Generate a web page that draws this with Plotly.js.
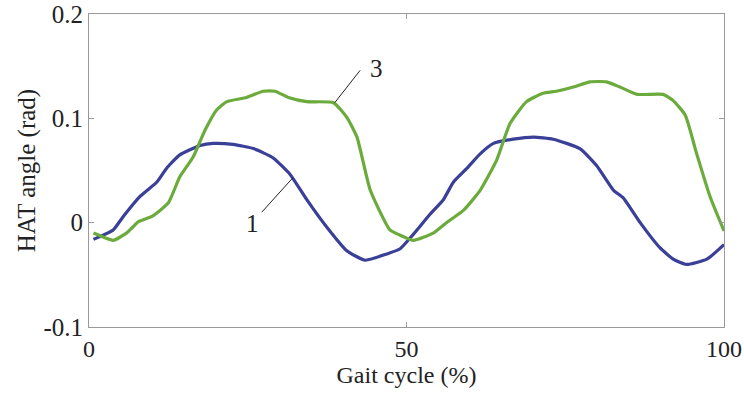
<!DOCTYPE html>
<html><head><meta charset="utf-8">
<script src="https://cdn.plot.ly/plotly-3.0.1.min.js"></script>
<style>html,body{margin:0;padding:0;background:#fff}#c{width:744px;height:394px}</style>
</head><body><div id="c"></div>
<script>
const x1 = [0.7,3.8,5.4,8.0,10.7,12.2,14.3,17.5,19.6,22.7,25.9,29.0,31.7,34.3,37.4,40.6,43.5,46.9,49.0,51.1,53.7,55.8,57.4,59.5,61.6,63.7,66.8,70.0,73.1,77.3,79.9,82.6,84.1,86.8,89.9,92.0,94.1,97.3,100];
const y1 = [-0.016,-0.007,0.006,0.025,0.039,0.052,0.065,0.074,0.076,0.075,0.071,0.062,0.046,0.022,-0.004,-0.027,-0.036,-0.030,-0.025,-0.011,0.008,0.022,0.039,0.052,0.066,0.076,0.080,0.082,0.080,0.071,0.055,0.031,0.024,0.000,-0.024,-0.035,-0.040,-0.035,-0.021];
const x3 = [0.7,2.3,3.8,5.9,7.8,9.9,12.5,14.3,16.4,18.3,20.1,21.7,24.8,27.4,29.3,31.4,34.3,38.5,40.6,42.2,44.3,47.4,49.0,51.1,54.2,56.3,59.0,61.6,64.2,66.3,68.9,71.5,73.6,76.3,78.9,81.5,83.6,86.3,90.4,92.0,93.9,95.7,97.8,100];
const y3 = [-0.010,-0.014,-0.017,-0.010,0.001,0.006,0.019,0.044,0.063,0.089,0.108,0.116,0.120,0.126,0.126,0.120,0.116,0.115,0.101,0.082,0.031,-0.007,-0.012,-0.017,-0.010,0.000,0.012,0.031,0.060,0.095,0.116,0.124,0.126,0.130,0.135,0.135,0.130,0.123,0.123,0.117,0.103,0.066,0.025,-0.008];
const xTicks = [0,50,100];
const yTicks = [-0.1,0,0.1,0.2];
const yTickText = ['-0.1','0','0.1','0.2'];
const labels = ['1','3'];

const font = {family:"'Liberation Serif', 'Times New Roman', serif", color:'#222'};
const traces = [
  {x:x1, y:y1, mode:'lines', line:{color:'#3a3f98', width:3.2, shape:'spline', smoothing:0.5}, hoverinfo:'skip'},
  {x:x3, y:y3, mode:'lines', line:{color:'#6aab3c', width:3.2, shape:'spline', smoothing:0.5}, hoverinfo:'skip'}
];
const axisCommon = {showline:true, mirror:'ticks', linecolor:'#9a9a9a', linewidth:1, ticks:'inside', ticklen:5, tickcolor:'#9a9a9a', showgrid:false, zeroline:false};
const layout = {
  width:744, height:394,
  margin:{l:89, r:20, t:14, b:67},
  paper_bgcolor:'#fff', plot_bgcolor:'#fff',
  showlegend:false,
  xaxis:Object.assign({}, axisCommon, {range:[0,100], tickvals:xTicks, ticktext:xTicks.map(String), ticklabelstandoff:0,
    tickfont:Object.assign({size:24},font),
    title:{text:'Gait cycle (%)', font:Object.assign({size:24},font), standoff:0}}),
  yaxis:Object.assign({}, axisCommon, {range:[-0.1,0.2], tickvals:yTicks, ticktext:yTickText,
    tickfont:Object.assign({size:25},font),
    title:{text:'HAT angle (rad)', font:Object.assign({size:25},font), standoff:0}}),
  shapes:[
    {type:'line', xref:'x', yref:'y', x0:38.7, y0:0.115, x1:42.7, y1:0.146, line:{color:'#222', width:1}},
    {type:'line', xref:'x', yref:'y', x0:32.1, y0:0.043, x1:27.2, y1:0.010, line:{color:'#222', width:1}}
  ],
  annotations:[
    {x:45.2, y:0.148, xref:'x', yref:'y', text:labels[1], showarrow:false, font:Object.assign({size:25},font)},
    {x:25.8, y:-0.001, xref:'x', yref:'y', text:labels[0], showarrow:false, font:Object.assign({size:25},font)}
  ]
};
Plotly.newPlot('c', traces, layout, {displayModeBar:false, staticPlot:true});
</script></body></html>
